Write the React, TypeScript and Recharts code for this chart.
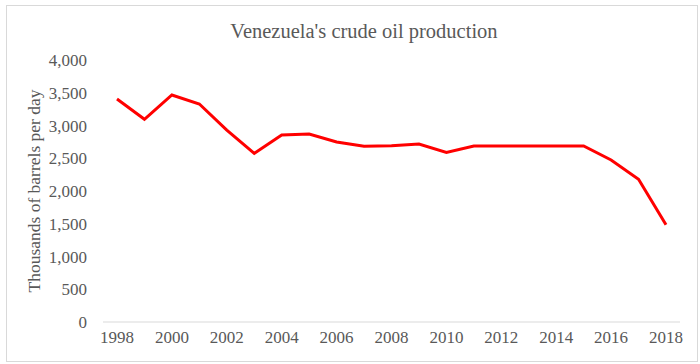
import { Line, LineChart, XAxis, YAxis, Label } from "recharts"

const years = [
  "1998", "1999", "2000", "2001", "2002", "2003", "2004", "2005", "2006", "2007", "2008",
  "2009", "2010", "2011", "2012", "2013", "2014", "2015", "2016", "2017", "2018",
]
const production = [
  3405, 3095, 3466, 3328, 2931, 2575, 2855, 2870, 2748, 2682, 2692,
  2718, 2590, 2687, 2687, 2687, 2687, 2687, 2473, 2178, 1486,
]
const yTicks = [0, 500, 1000, 1500, 2000, 2500, 3000, 3500, 4000]

const data = years.map((year, i) => ({ year, production: production[i] }))

const textColor = "#595959"
const font = "'Liberation Serif', 'Times New Roman', serif"

function XTick(props: any) {
  const { x, y, payload } = props
  return (
    <text x={x} y={y} dy="0.71em" textAnchor="middle" style={{ fill: textColor, fontSize: 17, fontFamily: font }}>
      {payload.value}
    </text>
  )
}

function YTick(props: any) {
  const { x, y, payload } = props
  return (
    <text x={x} y={y} dy="0.355em" textAnchor="end" style={{ fill: textColor, fontSize: 17, fontFamily: font }}>
      {Number(payload.value).toLocaleString("en-US")}
    </text>
  )
}

export default function App() {
  return (
    <div style={{ position: "absolute", left: 0, top: 0, width: 700, height: 364, background: "#fff", fontFamily: font }}>
      <div
        style={{
          position: "absolute",
          left: 6,
          top: 5,
          width: 690,
          height: 355,
          border: "1px solid #d9d9d9",
        }}
      />
      <div
        style={{
          position: "absolute",
          left: 0,
          top: 19,
          width: 728,
          textAlign: "center",
          fontSize: 20.5,
          color: textColor,
          lineHeight: "24px",
        }}
      >
        Venezuela's crude oil production
      </div>
      <LineChart
        width={700}
        height={364}
        data={data}
        margin={{ top: 60, right: 20, left: 0, bottom: 0 }}
        style={{ position: "absolute", left: 0, top: 0 }}
      >
        <XAxis
          dataKey="year"
          interval={1}
          padding={{ left: 14, right: 14 }}
          height={42}
          stroke="#d9d9d9"
          tickLine={false}
          tickSize={6}
          tickMargin={3}
          tick={<XTick />}
        />
        <YAxis
          width={103}
          domain={[0, 4000]}
          ticks={yTicks}
          axisLine={false}
          tickLine={false}
          tickSize={6}
          tickMargin={10}
          tick={<YTick />}
        >
          <Label
            value="Thousands of barrels per day"
            angle={-90}
            position="insideLeft"
            offset={34}
            style={{ textAnchor: "middle", fill: textColor, fontSize: 17.5, fontFamily: font }}
          />
        </YAxis>
        <Line
          type="linear"
          dataKey="production"
          stroke="#ff0000"
          strokeWidth={3}
          dot={false}
          isAnimationActive={false}
        />
      </LineChart>
    </div>
  )
}
